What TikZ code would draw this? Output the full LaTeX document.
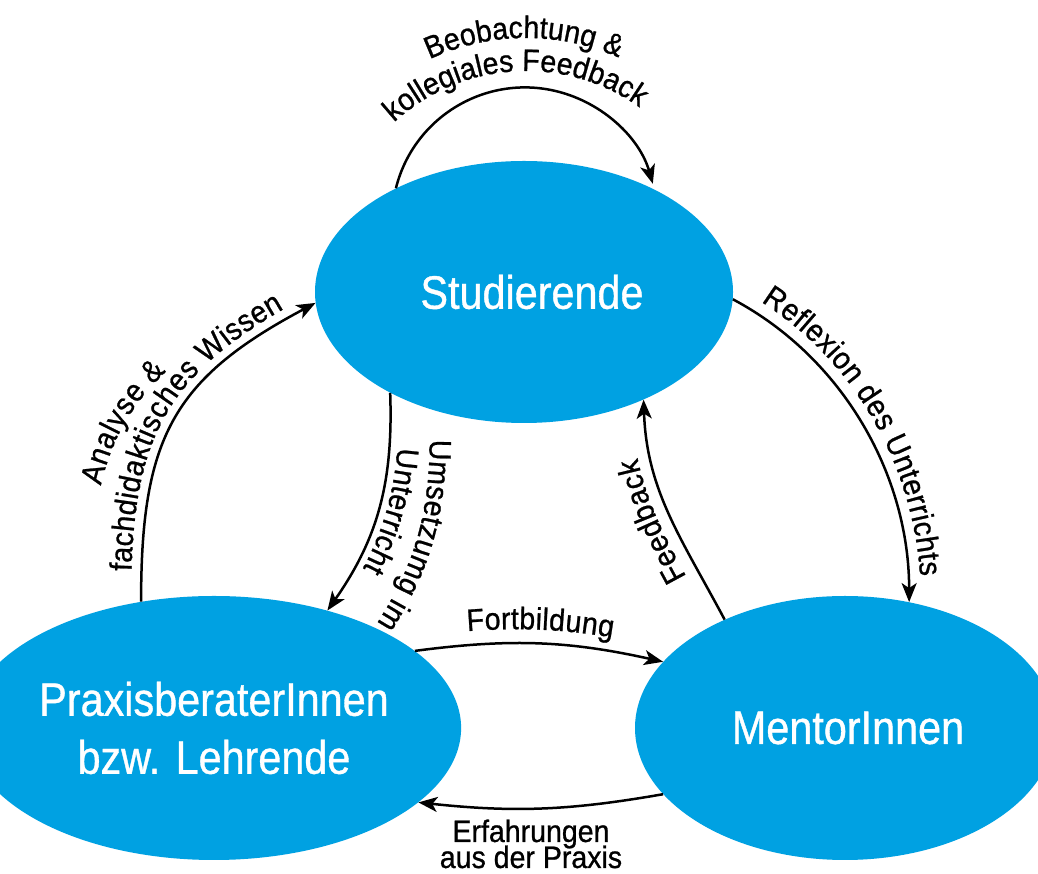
\documentclass[tikz,border=0pt]{standalone}
\usepackage{fontspec}
\setmainfont[FakeStretch=0.92, FakeBold=0.8]{Liberation Sans}
\newfontfamily\bubblefam[FakeStretch=0.88, FakeBold=0.8]{Liberation Sans}
\usetikzlibrary{shapes.geometric, decorations.text, arrows.meta}
\definecolor{nodeblue}{RGB}{0,161,226}
\newcommand{\lblfont}{\fontsize{31}{36}\selectfont}
\newcommand{\bubblefont}{\bubblefam\fontsize{47}{58}\selectfont}
\begin{document}
\begin{tikzpicture}[x=1pt,y=1pt,
  bubble/.style={ellipse, fill=nodeblue, text=white, inner sep=0pt, font=\bubblefont, align=center},
  conn/.style={line width=2.5pt, -{Stealth[length=19pt,width=15pt,inset=5pt]}},
  lbl/.style={font=\lblfont}]
\useasboundingbox (0,0) rectangle (1038,874);
\clip (0,0) rectangle (1038,874);
\fill[white] (0,0) rectangle (1038,874);

\node[bubble, minimum width=418pt, minimum height=262pt] (S) at (524,582) {\hspace*{16pt}Studierende};
\node[bubble, minimum width=410pt, minimum height=264pt] (P) at (214,146) {PraxisberaterInnen\\bzw. Lehrende};
\node[bubble, minimum width=420pt, minimum height=264pt] (M) at (845,146) {\hspace*{6pt}MentorInnen};

% connectors
\draw[conn] (S.141) arc[start angle=166, end angle=16, radius=133pt];
\draw[conn] (P.120) to[out=90, in=208, looseness=1.2] (S.183);
\draw[conn] (S.217) to[out=-88, in=55] (P.46);
\draw[conn] (M.138) to[out=118, in=-88] (S.-42);
\draw[conn] (S.-2) to[out=-28, in=90, looseness=0.92] (M.63);
\draw[conn] (P.21) to[bend left=10] (M.160);
\draw[conn] (M.200) to[bend left=8] (P.-20);

% labels along paths
\path[decorate, decoration={text along path, text align=center,
  text={|\lblfont|Beobachtung {\&}}}]
  ([shift={(128:228pt)}]526,608) arc[start angle=128, end angle=53, radius=228pt];
\path[decorate, decoration={text along path, text align=center,
  text={|\lblfont|kollegiales Feedback}}]
  ([shift={(134:195pt)}]526,608) arc[start angle=134, end angle=53, radius=195pt];

\path[decorate, decoration={text along path, text align=center, raise=10pt,
  text={|\lblfont|Analyse {\&}}}]
  ([shift={(-41,-8)}]P.120) to[out=90, in=208, looseness=1.2] ([shift={(-41,-8)}]S.183);
\path[decorate, decoration={text along path, text align=center, raise=10pt,
  text={|\lblfont|fachdidaktisches Wissen}}]
  (P.120) to[out=90, in=208, looseness=1.2] (S.183);

\path[decorate, decoration={text along path, text align=center, raise=8pt,
  text={|\lblfont|Umsetzumg im}}]
  ([shift={(31,-26)}]S.217) to[out=-88, in=55] ([shift={(31,-26)}]P.46);
\path[decorate, decoration={text along path, text align=center, raise=8pt,
  text={|\lblfont|Unterricht}}]
  (S.217) to[out=-88, in=55] (P.46);

\path[decorate, decoration={text along path, text align=center, raise=13pt,
  text={|\lblfont|Feedback}}]
  (M.138) to[out=118, in=-88] (S.-42);

\path[decorate, decoration={text along path, text align=center, raise=12pt,
  text={|\lblfont|Reflexion des Unterrichts}}]
  (S.-2) to[out=-28, in=90, looseness=0.92] (M.63);

\path[decorate, decoration={text along path, text align=center, raise=14pt,
  text={|\lblfont|Fortbildung}}]
  (P.21) to[bend left=10] (M.160);

\node[lbl, anchor=base] (erf1) at (531,32) {Erfahrungen};
\node[lbl, anchor=base] (erf2) at (531,6) {aus der Praxis};
\end{tikzpicture}
\end{document}
